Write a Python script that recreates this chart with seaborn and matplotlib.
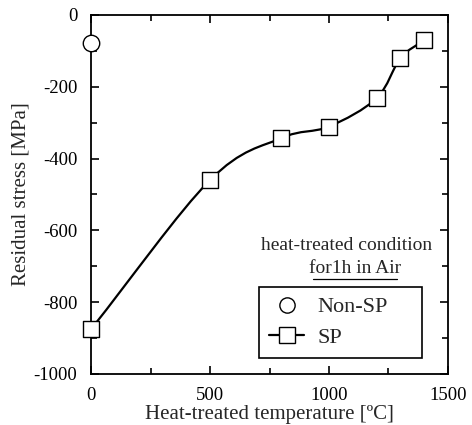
import numpy as np
import pandas as pd
import matplotlib
matplotlib.use("Agg")
import matplotlib.pyplot as plt
import seaborn as sns
from matplotlib.path import Path
from matplotlib.patches import PathPatch
from matplotlib.lines import Line2D
from matplotlib.ticker import MultipleLocator

# data
sp_temp = [0, 500, 800, 1000, 1200, 1300, 1400]
sp_stress = [-875, -460, -343, -311, -232, -121, -70]
nonsp_temp = [0]
nonsp_stress = [-77]

sns.set_theme(style="ticks")
plt.rcParams["font.family"] = ["Liberation Serif", "DejaVu Serif"]
plt.rcParams["axes.unicode_minus"] = False

fig = plt.figure(figsize=(4.72, 4.25), dpi=100)
ax = fig.add_axes([0.193, 0.12, 0.756, 0.845])

# smooth curve through the SP points (Catmull-Rom -> cubic Bezier)
pts = np.column_stack([sp_temp, sp_stress]).astype(float)
ext = np.vstack([2 * pts[0] - pts[1], pts, 2 * pts[-1] - pts[-2]])
verts = [tuple(pts[0])]
codes = [Path.MOVETO]
for i in range(1, len(ext) - 2):
    p0, p1, p2, p3 = ext[i - 1], ext[i], ext[i + 1], ext[i + 2]
    c1 = p1 + (p2 - p0) / 6.0
    c2 = p2 - (p3 - p1) / 6.0
    verts += [tuple(c1), tuple(c2), tuple(p2)]
    codes += [Path.CURVE4] * 3
ax.add_patch(PathPatch(Path(verts, codes), facecolor="none",
                       edgecolor="black", lw=1.6, zorder=2))

df_sp = pd.DataFrame({"temp": sp_temp, "stress": sp_stress})
df_non = pd.DataFrame({"temp": nonsp_temp, "stress": nonsp_stress})
sns.scatterplot(data=df_sp, x="temp", y="stress", marker="s", s=125,
                facecolor="white", edgecolor="black", linewidth=1.0,
                ax=ax, zorder=3, clip_on=False)
sns.scatterplot(data=df_non, x="temp", y="stress", marker="o", s=140,
                facecolor="white", edgecolor="black", linewidth=1.0,
                ax=ax, zorder=3, clip_on=False)

ax.set_xlim(0, 1500)
ax.set_ylim(-1000, 0)
ax.xaxis.set_major_locator(MultipleLocator(500))
ax.xaxis.set_minor_locator(MultipleLocator(250))
ax.yaxis.set_major_locator(MultipleLocator(200))
ax.yaxis.set_minor_locator(MultipleLocator(100))
ax.tick_params(which="both", direction="in", top=True, right=True,
               labelsize=13.5, width=1.2, colors="black")
ax.tick_params(which="major", length=6)
ax.tick_params(axis="x", which="major", pad=9)
ax.tick_params(axis="y", which="major", pad=10)
ax.tick_params(which="minor", length=4)
for sp in ax.spines.values():
    sp.set_linewidth(1.3)
    sp.set_color("black")

ax.set_xlabel("Heat-treated temperature [ºC]", fontsize=15, labelpad=1)
ax.set_ylabel("Residual stress [MPa]", fontsize=15, labelpad=2)

ax.text(0.715, 0.358, "heat-treated condition", transform=ax.transAxes,
        ha="center", va="center", fontsize=14)
ax.text(0.74, 0.293, "for1h in Air", transform=ax.transAxes,
        ha="center", va="center", fontsize=14)
ax.add_line(Line2D([0.622, 0.858], [0.264, 0.264], transform=ax.transAxes,
                   color="black", lw=0.9))

handles = [
    Line2D([], [], marker="o", ls="none", markersize=11,
           markerfacecolor="white", markeredgecolor="black", mew=1.0),
    Line2D([], [], marker="s", ls="-", color="black", lw=1.6, markersize=11,
           markerfacecolor="white", markeredgecolor="black", mew=1.0),
]
leg = ax.legend(handles, ["Non-SP", "SP"], loc="lower left",
                bbox_to_anchor=(0.47, 0.045, 0.456, 0.21), mode="expand",
                fontsize=16, frameon=True,
                fancybox=False, edgecolor="black", framealpha=1,
                handlelength=1.6, handletextpad=0.6, borderpad=0.45,
                labelspacing=0.45, borderaxespad=0)
leg.get_frame().set_linewidth(1.2)

fig.savefig("out.png", dpi=100)
